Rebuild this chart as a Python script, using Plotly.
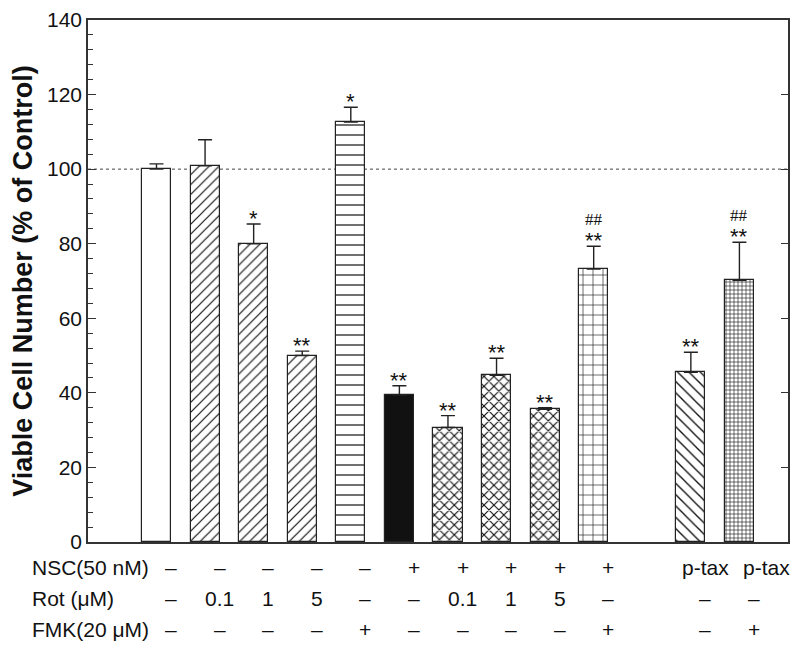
import plotly.graph_objects as go

# ---- data ----
positions = [1, 2, 3, 4, 5, 6, 7, 8, 9, 10, 12, 13]
values = [100.0, 100.9, 80.0, 50.0, 112.6, 39.4, 30.7, 44.7, 35.6, 73.2, 45.5, 70.2]
errors = [1.4, 7.0, 5.3, 1.2, 4.0, 2.5, 3.2, 4.6, 0.4, 6.1, 5.4, 10.2]
stars = ["", "", "*", "**", "*", "**", "**", "**", "**", "**", "**", "**"]
hashes = ["", "", "", "", "", "", "", "", "", "##", "", "##"]

row_labels = ["NSC(50 nM)", "Rot (\u03bcM)", "FMK(20 \u03bcM)"]
nsc = ["\u2013", "\u2013", "\u2013", "\u2013", "\u2013", "+", "+", "+", "+", "+", "p-tax", "p-tax"]
rot = ["\u2013", "0.1", "1", "5", "\u2013", "\u2013", "0.1", "1", "5", "\u2013", "\u2013", "\u2013"]
fmk = ["\u2013", "\u2013", "\u2013", "\u2013", "+", "\u2013", "\u2013", "\u2013", "\u2013", "+", "\u2013", "+"]

y_ticks = [0, 20, 40, 60, 80, 100, 120, 140]
control_level = 100

# ---- styles ----
shapes_ = ["", "/", "/", "/", "-", "", "x", "x", "x", "+", "\\", "+"]
sizes_ = [8, 7, 7, 7, 10, 8, 7, 7, 7, 10, 8, 4]
solid_ = [0.15, 0.17, 0.17, 0.17, 0.12, 0.15, 0.3, 0.3, 0.3, 0.12, 0.17, 0.28]
fills = ["white"] * 5 + ["#111111"] + ["white"] * 6

FONT = "Liberation Sans, Arial, Helvetica, sans-serif"

fig = go.Figure()
for i in range(len(positions)):
    pat = dict(shape=shapes_[i], size=sizes_[i], solidity=solid_[i],
               fgcolor="#111111", bgcolor=fills[i], fillmode="replace")
    fig.add_trace(go.Bar(
        x=[positions[i]], y=[values[i]], width=0.6,
        marker=dict(color=fills[i], line=dict(color="#222222", width=1.2),
                    pattern=pat),
        error_y=dict(type="data", symmetric=False, array=[errors[i]],
                     arrayminus=[0], color="#222222", thickness=1.4, width=7),
        showlegend=False, hoverinfo="skip",
    ))
# invisible trace for the right-hand axis
fig.add_trace(go.Scatter(x=[positions[0]], y=[0], yaxis="y2", mode="markers",
                         marker=dict(opacity=0), showlegend=False, hoverinfo="skip"))

annotations = []
for xp, v, e, s, h in zip(positions, values, errors, stars, hashes):
    top = v + e
    if s:
        annotations.append(dict(x=xp, y=top, xref="x", yref="y", text=s,
                                showarrow=False, yanchor="bottom",
                                font=dict(size=22, family=FONT, color="#111"),
                                yshift=-9))
    if h:
        annotations.append(dict(x=xp, y=top, xref="x", yref="y", text=h,
                                showarrow=False, yanchor="bottom",
                                font=dict(size=17, family="Liberation Serif, Times New Roman, serif",
                                          color="#111"),
                                yshift=15))

# row y in paper units (plot area spans 522 px, bottom at window y=542)
row_y = [-0.0498, -0.1073, -0.1667]
for r, (label, ry, row) in enumerate(zip(row_labels, row_y, [nsc, rot, fmk])):
    annotations.append(dict(x=-0.083, y=ry, xref="paper", yref="paper", text=label,
                            showarrow=False, xanchor="left", yanchor="middle",
                            font=dict(size=21, family=FONT, color="#111")))
    for c, (xp, t) in enumerate(zip(positions, row)):
        shift = 12 if (t == "p-tax" and c == len(positions) - 1) else 0
        annotations.append(dict(x=xp + 0.3, y=ry, xref="x", yref="paper", text=t,
                                showarrow=False, xanchor="center", yanchor="middle",
                                xshift=shift,
                                font=dict(size=21, family=FONT, color="#111")))

fig.update_layout(
    width=792, height=640,
    margin=dict(l=80, r=12, t=12, b=106, autoexpand=False),
    plot_bgcolor="white", paper_bgcolor="white",
    font=dict(family=FONT, size=21, color="#111"),
    bargap=0, barmode="overlay",
    xaxis=dict(range=[-0.41, 14.0], showticklabels=False, ticks="",
               showline=True, linecolor="#333", linewidth=1.5, mirror=True,
               showgrid=False, zeroline=False, fixedrange=True, automargin=False),
    yaxis=dict(range=[0, 140], tickvals=y_ticks, ticks="inside", ticklen=8,
               tickwidth=1.2, tickcolor="#333", automargin=False,
               ticklabeloverflow="allow",
               minor=dict(dtick=4, ticks="inside", ticklen=5, tickwidth=1, tickcolor="#333"),
               showline=True, linecolor="#333", linewidth=1.5,
               showgrid=False, zeroline=False,
               tickfont=dict(size=21, family=FONT, color="#111"),
               title=dict(text="<b>Viable Cell Number (% of Control)</b>",
                          font=dict(size=27, family=FONT, color="#111"), standoff=11)),
    yaxis2=dict(range=[0, 140], overlaying="y", side="right", tickvals=y_ticks,
                ticks="inside", ticklen=7, tickwidth=1.2, tickcolor="#333",
                showticklabels=False, showline=True, linecolor="#333", linewidth=1.5,
                showgrid=False, zeroline=False, automargin=False),
    shapes=[dict(type="line", xref="paper", x0=0, x1=1, yref="y",
                 y0=control_level, y1=control_level,
                 line=dict(color="#444", width=1, dash="dot"), layer="below")],
    annotations=annotations,
)

fig.write_html("out.html")
